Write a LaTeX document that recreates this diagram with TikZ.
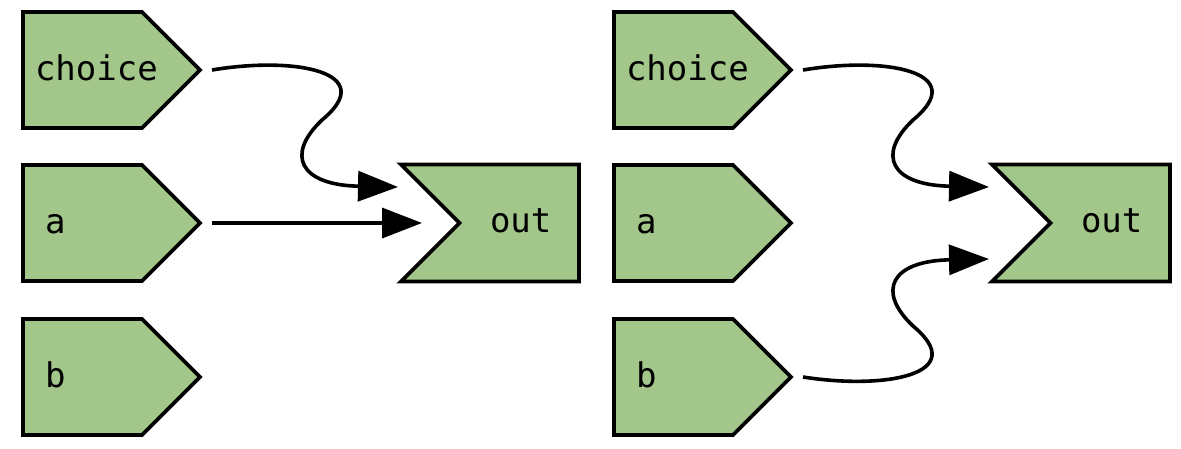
\documentclass[tikz,border=0pt]{standalone}
\usepackage{fontspec}
\newfontfamily\monof{DejaVu Sans Mono}
\usetikzlibrary{shapes.symbols,arrows.meta}
\definecolor{boxgreen}{HTML}{A3C78A}
\tikzset{
  inbox/.style={signal, signal to=east, signal pointer angle=90, draw=black, fill=boxgreen,
    line width=3.8pt, minimum width=177pt, minimum height=116pt, inner sep=0pt, outer sep=0pt, anchor=west},
  outbox/.style={signal, signal from=west, signal to=nowhere, signal pointer angle=90, draw=black, fill=boxgreen,
    line width=3.8pt, minimum width=178pt, minimum height=117pt, inner sep=0pt, outer sep=0pt, anchor=east},
  lbl/.style={anchor=base west, inner sep=0pt, outer sep=0pt, font=\monof\fontsize{34}{40}\selectfont},
  conn/.style={line width=3.6pt, -{Triangle[length=40pt,width=30pt]}}
}
\begin{document}
\begin{tikzpicture}[x=1pt,y=-1pt]
\useasboundingbox (0,0) rectangle (1181,448);
% left panel
\node[inbox] (c1) at (23,70) {};
\node[inbox] (a1) at (23,223) {};
\node[inbox] (b1) at (23,377) {};
\node[outbox] (o1) at (579,223) {};
\node[lbl] (tc1) at (35,80) {choice};
\node[lbl] (ta1) at (45,233) {a};
\node[lbl] (tb1) at (45,387) {b};
\node[lbl] (to1) at (490,232) {out};
\coordinate (e1) at (398,187);
\coordinate (e2) at (422,223);
\draw[conn] ([xshift=12pt]c1.east) .. controls (295,56) and (380,72) .. (322,120) .. controls (285,155) and (300,185) .. (e1);
\draw[conn] ([xshift=12pt]a1.east) -- (e2);
% right panel
\node[inbox] (c2) at (614,70) {};
\node[inbox] (a2) at (614,223) {};
\node[inbox] (b2) at (614,377) {};
\node[outbox] (o2) at (1170,223) {};
\node[lbl] (tc2) at (626,80) {choice};
\node[lbl] (ta2) at (636,233) {a};
\node[lbl] (tb2) at (636,387) {b};
\node[lbl] (to2) at (1081,232) {out};
\coordinate (e3) at (989,187);
\coordinate (e4) at (989,259);
\draw[conn] ([xshift=12pt]c2.east) .. controls (886,56) and (971,72) .. (913,120) .. controls (876,155) and (891,185) .. (e3);
\draw[conn] ([xshift=12pt]b2.east) .. controls (886,390) and (971,374) .. (913,326) .. controls (876,291) and (891,261) .. (e4);
\end{tikzpicture}
\end{document}
